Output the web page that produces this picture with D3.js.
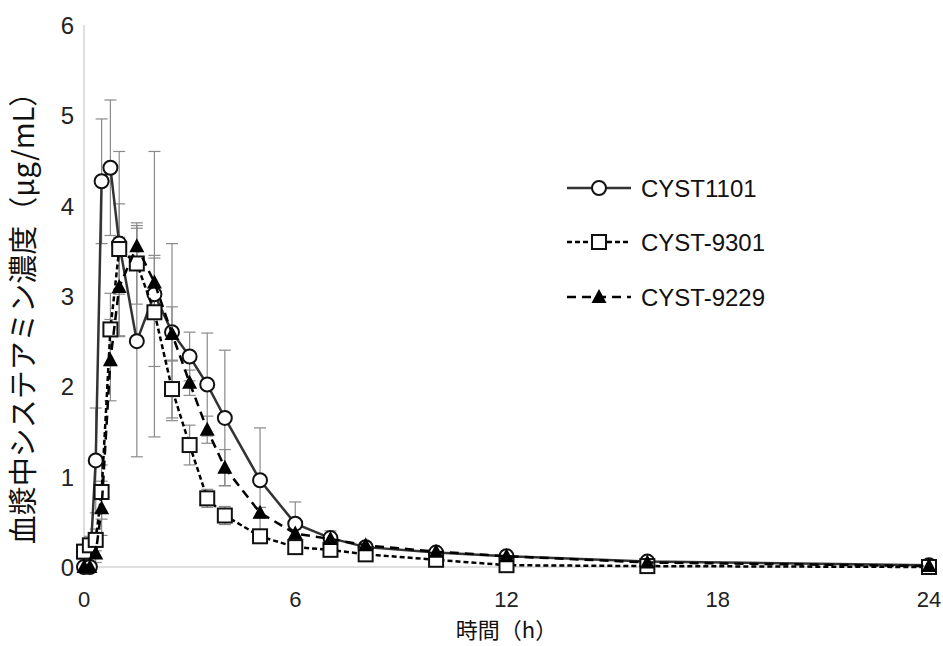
<!DOCTYPE html>
<html>
<head>
<meta charset="utf-8">
<script src="https://cdn.jsdelivr.net/npm/d3@7"></script>
<style>
  body { margin: 0; background: #fff; }
  text { font-family: "Liberation Sans", Arial, sans-serif; }
  .jp { font-family: "Noto Sans CJK JP", sans-serif; }
</style>
</head>
<body>
<div id="chart"></div>
<script>
// time points (h)
var times = [0, 0.167, 0.333, 0.5, 0.75, 1, 1.5, 2, 2.5, 3, 3.5, 4, 5, 6, 7, 8, 10, 12, 16, 24];

var cyst1101 = [0, 0, 1.18, 4.27, 4.42, 3.58, 2.5, 3.02, 2.6, 2.33, 2.02, 1.65, 0.96, 0.48, 0.32, 0.22, 0.16, 0.12, 0.06, 0.02];
var cyst1101Sd = [0, 0, 0.58, 0.69, 0.75, 1.02, 1.28, 1.58, 0.98, 0.27, 0.57, 0.75, 0.58, 0.24, 0.08, 0.05, 0.04, 0.03, 0.02, 0.01];

var cyst9301 = [0.17, 0.24, 0.3, 0.83, 2.63, 3.52, 3.36, 2.82, 1.97, 1.35, 0.76, 0.57, 0.34, 0.22, 0.19, 0.14, 0.08, 0.02, 0.01, 0];
var cyst9301Sd = [0.08, 0.1, 0.12, 0.3, 0.4, 0.5, 0.45, 0.6, 0.32, 0.22, 0.1, 0.1, 0.06, 0.05, 0.04, 0.03, 0.03, 0.02, 0.01, 0];

var cyst9229 = [0, 0, 0.15, 0.65, 2.29, 3.1, 3.55, 3.15, 2.58, 2.04, 1.52, 1.1, 0.6, 0.37, 0.31, 0.24, 0.17, 0.12, 0.05, 0.01];
var cyst9229Sd = [0, 0, 0.1, 0.3, 0.45, 0.55, 0.2, 0.3, 0.3, 0.14, 0.15, 0.2, 0.06, 0.05, 0.04, 0.03, 0.02, 0.02, 0.01, 0];

var seriesNames = ["CYST1101", "CYST-9301", "CYST-9229"];
var xTicks = [0, 6, 12, 18, 24];
var yTicks = [0, 1, 2, 3, 4, 5, 6];
var xLabel = "時間（h）";
var yLabel = "血漿中システアミン濃度（μg/mL）";

var width = 943, height = 646;
var margin = {top: 25, right: 14, bottom: 79, left: 84};

var svg = d3.select("#chart").append("svg")
  .attr("width", width)
  .attr("height", height);

var x = d3.scaleLinear().domain([0, 24]).range([margin.left, width - margin.right]);
var y = d3.scaleLinear().domain([0, 6]).range([height - margin.bottom, margin.top]);

// axis lines, light grey like the original
svg.append("line")
  .attr("x1", x(0)).attr("x2", x(0))
  .attr("y1", y(6)).attr("y2", y(0))
  .style("stroke", "#d4d4d4").style("stroke-width", 1.5);
svg.append("line")
  .attr("x1", x(0)).attr("x2", x(24))
  .attr("y1", y(0)).attr("y2", y(0))
  .style("stroke", "#d4d4d4").style("stroke-width", 1.5);

// tick labels
svg.selectAll(".ytick").data(yTicks).enter().append("text")
  .attr("class", "ytick")
  .attr("x", x(0) - 10)
  .attr("y", function (d) { return y(d) + 9; })
  .attr("text-anchor", "end")
  .style("font-size", "24px")
  .style("fill", "#222")
  .text(function (d) { return d; });

svg.selectAll(".xtick").data(xTicks).enter().append("text")
  .attr("class", "xtick")
  .attr("x", function (d) { return x(d); })
  .attr("y", y(0) + 40)
  .attr("text-anchor", "middle")
  .style("font-size", "22px")
  .style("fill", "#222")
  .text(function (d) { return d; });

svg.append("text")
  .attr("class", "jp")
  .attr("x", (x(0) + x(24)) / 2)
  .attr("y", 632)
  .attr("dominant-baseline", "middle")
  .attr("text-anchor", "middle")
  .style("font-size", "22px")
  .style("fill", "#111")
  .text(xLabel);

svg.append("text")
  .attr("class", "jp")
  .attr("transform", "translate(34," + 311 + ") rotate(-90)")
  .attr("text-anchor", "middle")
  .style("font-size", "29px")
  .style("fill", "#111")
  .text(yLabel);

var series = [
  {name: seriesNames[0], values: cyst1101, sd: cyst1101Sd, dash: null, color: "#333", marker: "circle"},
  {name: seriesNames[1], values: cyst9301, sd: cyst9301Sd, dash: "5,3", color: "#000", marker: "square"},
  {name: seriesNames[2], values: cyst9229, sd: cyst9229Sd, dash: "9,6", color: "#000", marker: "triangle"}
];

// error bars
series.forEach(function (s) {
  var g = svg.append("g").attr("class", "err");
  times.forEach(function (t, i) {
    var sd = s.sd[i];
    if (!sd) return;
    var cx = x(t), top = y(s.values[i] + sd), bot = y(Math.max(0, s.values[i] - sd));
    g.append("line").attr("x1", cx).attr("x2", cx).attr("y1", top).attr("y2", bot);
    g.append("line").attr("x1", cx - 6).attr("x2", cx + 6).attr("y1", top).attr("y2", top);
    if (s.values[i] - sd > 0) {
      g.append("line").attr("x1", cx - 6).attr("x2", cx + 6).attr("y1", bot).attr("y2", bot);
    }
  });
  g.selectAll("line").style("stroke", "#8a8a8a").style("stroke-width", 1.2);
});

var line = d3.line()
  .x(function (d) { return x(d[0]); })
  .y(function (d) { return y(d[1]); });

function drawMarker(g, type, cx, cy) {
  if (type === "circle") {
    g.append("circle").attr("cx", cx).attr("cy", cy).attr("r", 7)
      .style("fill", "#fff").style("stroke", "#111").style("stroke-width", 2);
  } else if (type === "square") {
    g.append("rect").attr("x", cx - 7).attr("y", cy - 7).attr("width", 14).attr("height", 14)
      .style("fill", "#fff").style("stroke", "#111").style("stroke-width", 2);
  } else {
    g.append("path")
      .attr("d", "M" + cx + "," + (cy - 8) + " L" + (cx + 7.5) + "," + (cy + 6) + " L" + (cx - 7.5) + "," + (cy + 6) + " Z")
      .style("fill", "#000");
  }
}

series.forEach(function (s) {
  var g = svg.append("g").attr("class", "series");
  var pts = times.map(function (t, i) { return [t, s.values[i]]; });
  g.append("path")
    .attr("d", line(pts))
    .style("fill", "none")
    .style("stroke", s.color)
    .style("stroke-width", 2.5)
    .style("stroke-dasharray", s.dash);
  pts.forEach(function (p) { drawMarker(g, s.marker, x(p[0]), y(p[1])); });
});

// legend
var legY = [188, 242, 297];
series.forEach(function (s, i) {
  var g = svg.append("g").attr("class", "legend");
  g.append("line")
    .attr("x1", 567).attr("x2", 631)
    .attr("y1", legY[i]).attr("y2", legY[i])
    .style("stroke", s.color)
    .style("stroke-width", 2.5)
    .style("stroke-dasharray", s.dash);
  drawMarker(g, s.marker, 599, legY[i]);
  g.append("text")
    .attr("x", 641)
    .attr("y", legY[i] + 9)
    .style("font-size", "24px")
    .style("fill", "#111")
    .text(s.name);
});
</script>
</body>
</html>
